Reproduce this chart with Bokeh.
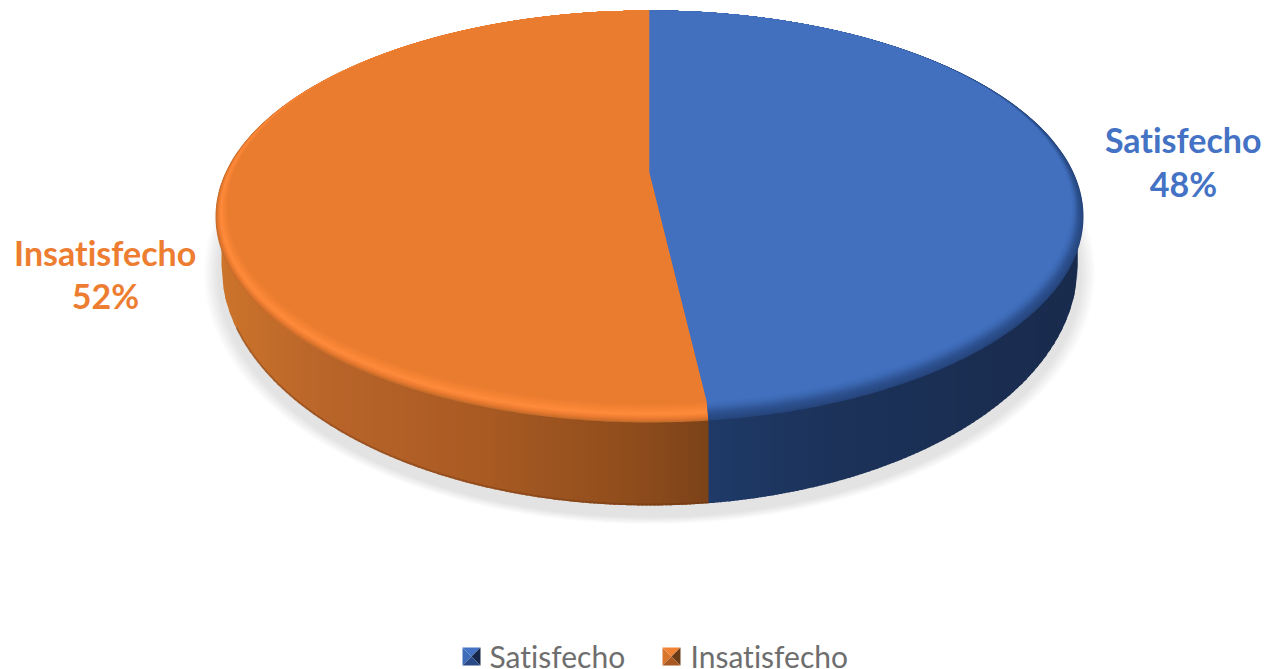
import numpy as np
from bokeh.core.properties import value
from bokeh.embed import file_html
from bokeh.models import InlineStyleSheet
from bokeh.plotting import figure
from bokeh.resources import INLINE

categories = ["Satisfecho", "Insatisfecho"]
shares = [48, 52]
percent_labels = ["48%", "52%"]
face_colors = ["#4270BF", "#EA7C30"]
label_colors = ["#4472C4", "#ED7D31"]

# Disc geometry, in page pixels
CX = 649
TOP_CY, TOP_RX, TOP_RY = 216, 434, 206
FLAT_CY, FLAT_RX, FLAT_RY = 206.5, 422, 196.5
BASE_CY, BASE_RX, BASE_RY = 265, 428, 240
APEX_Y = 172
NEAR_GAIN = 1.085  # perspective widens slices on the near side of the disc


def mix(a, b, t):
    ca = [int(a[i:i + 2], 16) for i in (1, 3, 5)]
    cb = [int(b[i:i + 2], 16) for i in (1, 3, 5)]
    return "#%02x%02x%02x" % tuple(round(x + (y - x) * t) for x, y in zip(ca, cb))


def ramp(stops, t):
    pos = [s[0] for s in stops]
    i = min(max(np.searchsorted(pos, t) - 1, 0), len(stops) - 2)
    f = (t - pos[i]) / (pos[i + 1] - pos[i])
    return mix(stops[i][1], stops[i + 1][1], float(np.clip(f, 0, 1)))


p = figure(width=1266, height=669, x_range=(0, 1266), y_range=(669, 0),
           output_backend="svg", toolbar_location=None, min_border=0,
           outline_line_color=None, background_fill_color="white")
p.axis.visible = False
p.grid.visible = False
p.stylesheets = [InlineStyleSheet(css=":host { font-variant-ligatures: none; }")]

# Soft drop shadow under the disc
for t in np.linspace(0, 1, 14):
    a = np.linspace(0, 2 * np.pi, 180)
    p.patch(CX + (446 - 14 * t) * np.cos(a), 273 + (251 - 7 * t) * np.sin(a),
            fill_color="black", fill_alpha=0.009, line_color=None)

# Angle at which the first slice ends, clockwise from twelve o'clock
end_deg = 360 * shares[0] / sum(shares)
end_param = np.radians(180 - (180 - end_deg) * NEAR_GAIN)
split_x = CX + TOP_RX * np.sin(end_param)

# Wall of the disc, as overlapping strips shaded from left to right
orange_wall = [(0.0, "#CC742B"), (0.2, "#BA652A"), (0.55, "#A85A22"), (0.85, "#8E4C1C"), (1.0, "#7C4218")]
blue_wall = [(0.0, "#1F3A68"), (0.35, "#1C3259"), (1.0, "#192B4D")]


def base_y(x):
    return BASE_CY + BASE_RY * np.sqrt(np.clip(1 - ((x - CX) / BASE_RX) ** 2, 0, 1))


def wall(x0, x1, stops, tuck=0.0):
    edges = np.append(np.arange(x0, x1, 4.0), x1)
    for a, b in zip(edges[:-1], edges[1:]):
        c = ramp(stops, ((a + b) / 2 - x0) / (x1 - x0))
        end = min(b + 2, x1 + tuck)
        xs = np.linspace(a, end, 4)
        p.patch(np.r_[xs, end, a], np.r_[base_y(xs), TOP_CY, TOP_CY],
                fill_color=c, line_color=None)


# The orange wall runs slightly under the blue one so no seam shows between them
wall(CX - BASE_RX, split_x, orange_wall, tuck=1.5)
wall(split_x, CX + BASE_RX, blue_wall)

# Darker seam along the lower edge of the orange wall
seam = np.linspace(CX - BASE_RX + 15, split_x, 200)
p.line(seam, base_y(seam) - 1, line_color="#5f300f", line_alpha=0.3, line_width=2)


# Top face: stacked rings from the rim inwards, which gives the rounded bevel
def slice_shape(cy, rx, ry, a0, a1):
    a = np.linspace(a0, a1, 260)
    return np.r_[CX, CX + rx * np.sin(a)], np.r_[APEX_Y, cy - ry * np.cos(a)]


orange_rim = [(0.0, "#C46C2B"), (0.18, "#E87A30"), (0.42, "#FF8B3C"), (0.7, "#F58335"), (1.0, face_colors[1])]
blue_rim = [(0.0, "#26457C"), (0.4, "#2F5392"), (0.75, "#3D69B4"), (1.0, face_colors[0])]

for t in np.linspace(0, 1, 26):
    cy = TOP_CY + (FLAT_CY - TOP_CY) * t
    rx = TOP_RX + (FLAT_RX - TOP_RX) * t
    ry = TOP_RY + (FLAT_RY - TOP_RY) * t
    xs, ys = slice_shape(cy, rx, ry, end_param, 2 * np.pi)
    c = ramp(orange_rim, t)
    p.patch(xs, ys, fill_color=c, line_color=None)
    xs, ys = slice_shape(cy, rx, ry, 0, end_param)
    c = ramp(blue_rim, t)
    p.patch(xs, ys, fill_color=c, line_color=None)

# Data labels beside the disc
label_x = [1183, 105]
name_y = [139, 252]
pct_y = [183, 295]
p.text(label_x, name_y, text=categories, text_color=label_colors,
       text_font=value("Lato"), text_font_style="bold", text_font_size="34px",
       text_align="center", text_baseline="middle")
p.text(label_x, pct_y, text=percent_labels, text_color=label_colors,
       text_font=value("Lato"), text_font_style="bold", text_font_size="34px",
       text_align="center", text_baseline="middle")

# Legend with bevelled swatches
swatch_x = [462, 662]
legend_text_x = [489, 690]
swatch_shades = [
    ("#3E6CB8", "#4472C4", "#16264A", "#2A4A85"),
    ("#D9762E", "#F08236", "#6B3B15", "#A85A22"),
]
S = 18
T = 647
for sx, (left, top, right, bottom) in zip(swatch_x, swatch_shades):
    mx, my = sx + S / 2, T + S / 2
    p.patch([sx, mx, sx], [T, my, T + S], fill_color=left, line_color=None)
    p.patch([sx, sx + S, mx], [T, T, my], fill_color=top, line_color=None)
    p.patch([sx + S, sx + S, mx], [T, T + S, my], fill_color=right, line_color=None)
    p.patch([sx, sx + S, mx], [T + S, T + S, my], fill_color=bottom, line_color=None)

p.text(legend_text_x, [655, 655], text=categories, text_color="#6E6E6E",
       text_font=value("Lato"), text_font_size="30px",
       text_align="left", text_baseline="middle")

open("out.html", "w").write(file_html(p, INLINE))
